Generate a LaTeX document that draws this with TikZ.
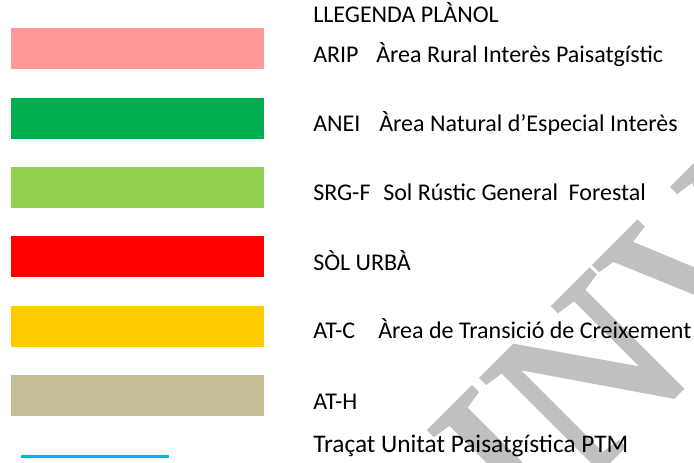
\documentclass[tikz,border=0pt]{standalone}
\usepackage{fontspec}
\setmainfont{Carlito}
\newfontfamily\wmfont[FakeBold=2]{Liberation Serif}
\definecolor{cpink}{HTML}{FF9999}
\definecolor{cgreen}{HTML}{00B050}
\definecolor{clgreen}{HTML}{92D050}
\definecolor{cred}{HTML}{FF0000}
\definecolor{cyellow}{HTML}{FFCC00}
\definecolor{ctan}{HTML}{C4BD97}
\definecolor{cblue}{HTML}{00B0F0}
\definecolor{wmgray}{RGB}{192,192,192}
\begin{document}
\begin{tikzpicture}[x=0.75pt,y=-0.75pt,
  swatch/.style={fill=#1, draw=none, inner sep=0pt, minimum width=189.75pt, minimum height=30.75pt},
  lbl/.style={anchor=base west, inner sep=0pt, font=\fontsize{18}{21}\selectfont},
  watermark/.style={rotate=45, anchor=base west, inner sep=0pt, text=wmgray, font=\wmfont\fontsize{170}{170}\selectfont}]
\useasboundingbox (0,0) rectangle (694,463);
% watermark
\node[watermark] (wm) at (529,541) {INV};
% swatches
\node[swatch=cpink]   (s1) at (137.5,48.5) {};
\node[swatch=cgreen]  (s2) at (137.5,118.5) {};
\node[swatch=clgreen] (s3) at (137.5,187.5) {};
\node[swatch=cred]    (s4) at (137.5,256.5) {};
\node[swatch=cyellow] (s5) at (137.5,326.5) {};
\node[swatch=ctan]    (s6) at (137.5,395.5) {};
\coordinate (b1) at (21,456.5);
\coordinate (b2) at (169,456.5);
\draw[cblue, line width=2.25pt] (b1) -- (b2);
% labels
\node[lbl] (title) at (313,23) {LLEGENDA PLÀNOL};
\node[lbl] (c1) at (313,63) {ARIP};
\node[lbl] (d1) at (376,63) {Àrea Rural Interès Paisatgístic};
\node[lbl] (c2) at (313,132) {ANEI};
\node[lbl] (d2) at (379,132) {Àrea Natural d’Especial Interès};
\node[lbl] (c3) at (313,201) {SRG-F};
\node[lbl] (d3) at (383,201) {Sol Rústic General\hspace{8pt}Forestal};
\node[lbl] (c4) at (313,271) {SÒL URBÀ};
\node[lbl] (c5) at (313,339) {AT-C};
\node[lbl] (d5) at (378,339) {Àrea de Transició de Creixement};
\node[lbl] (c6) at (313,410) {AT-H};
\node[lbl, font=\fontsize{19}{22}\selectfont] (c7) at (313,453) {Traçat Unitat Paisatgística PTM};
\end{tikzpicture}
\end{document}
